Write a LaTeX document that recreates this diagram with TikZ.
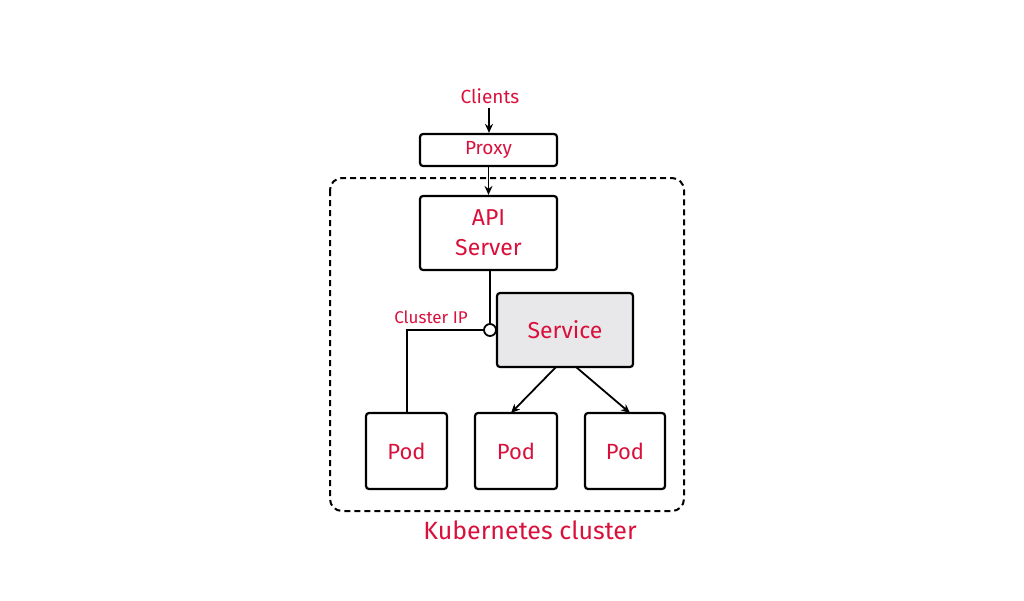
\documentclass[tikz,border=0pt]{standalone}
\usepackage{fontspec}
\setmainfont{Fira Sans}
\usetikzlibrary{arrows.meta}
\definecolor{txtred}{HTML}{D9103C}
\definecolor{svcgray}{HTML}{E8E8EA}
\tikzset{
  box/.style={draw=black, line width=2.2pt, rounded corners=3pt, inner sep=0pt, font=\fontsize{22}{24}\selectfont, text=txtred},
  lbl/.style={text=txtred, inner sep=0pt},
  conn/.style={draw=black, line width=1.8pt},
  arr/.style={conn, -{Stealth[length=9pt,width=8pt]}}
}
\begin{document}
\begin{tikzpicture}[x=1pt,y=-1pt]
\useasboundingbox (0,0) rectangle (1024,600);
% cluster
\draw[line width=2pt, dash pattern=on 6pt off 4pt, rounded corners=12pt] (330,178) rectangle (684,511);
\node[lbl, font=\fontsize{25}{27}\selectfont] (kc) at (530,530) {Kubernetes cluster};
% clients / proxy
\node[lbl, font=\fontsize{19}{21}\selectfont] (clients) at (490,96) {Clients};
\node[box, minimum width=137pt, minimum height=32pt, font=\fontsize{19}{21}\selectfont] (proxy) at (488.5,150) {Proxy};
\node[box, minimum width=137pt, minimum height=74pt, align=center, font=\fontsize{23}{30}\selectfont] (api) at (488.5,233) {API\\Server};
\node[box, fill=svcgray, minimum width=136pt, minimum height=74pt, font=\fontsize{23}{25}\selectfont] (svc) at (565,330) {Service};
\node[box, minimum width=81pt, minimum height=76pt] (pod1) at (406.5,451) {Pod};
\node[box, minimum width=82pt, minimum height=76pt] (pod2) at (516,451) {Pod};
\node[box, minimum width=80pt, minimum height=76pt] (pod3) at (625,451) {Pod};
% connectors
\coordinate (c0) at (489,108);
\draw[arr] (c0) -- (c0 |- proxy.north);
\draw[arr] (proxy.south) -- (api.north);
\node[draw=black, fill=white, circle, line width=1.8pt, minimum size=12pt, inner sep=0pt] (ip) at (490,330) {};
\draw[conn] (api.south -| ip) -- (ip.north);
\draw[conn] (ip.west) -- (407,330) -- (pod1.north -| 407,330);
\node[lbl, font=\fontsize{17}{19}\selectfont, anchor=south] (iplbl) at (431,324) {Cluster IP};
\coordinate (s1) at (556,367);
\coordinate (s2) at (576,367);
\draw[arr] (s1) -- (511,413);
\draw[arr] (s2) -- (630,413);
\end{tikzpicture}
\end{document}
